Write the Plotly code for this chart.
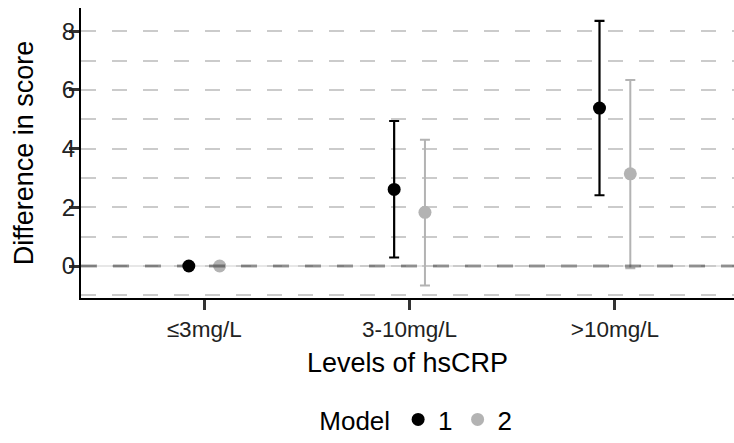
import plotly.graph_objects as go

categories = ["≤3mg/L", "3-10mg/L", ">10mg/L"]
models = ["1", "2"]
m1_est = [0.0, 2.61, 5.38]
m1_lo = [0.0, 0.29, 2.41]
m1_hi = [0.0, 4.94, 8.35]
m2_est = [0.0, 1.83, 3.14]
m2_lo = [0.0, -0.66, -0.08]
m2_hi = [0.0, 4.30, 6.34]
y_ticks = [0, 2, 4, 6, 8]

dodge = 0.075
colors = ["#000000", "#b3b3b3"]

fig = go.Figure()
for i, (name, est, lo, hi) in enumerate([("1", m1_est, m1_lo, m1_hi), ("2", m2_est, m2_lo, m2_hi)]):
    off = -dodge if i == 0 else dodge
    xs = [k + off for k in range(len(categories))]
    fig.add_trace(go.Scatter(
        x=xs, y=est, mode="markers", name=name,
        marker=dict(color=colors[i], size=13, line=dict(width=0)),
        error_y=dict(type="data", symmetric=False,
                     array=[h - e for h, e in zip(hi, est)],
                     arrayminus=[e - l for e, l in zip(est, lo)],
                     color=colors[i], thickness=2.2 if i == 0 else 2, width=5),
    ))

fig.add_shape(type="line", xref="paper", x0=0, x1=1, yref="y", y0=0, y1=0,
              line=dict(color="#cfcfcf", width=1), layer="below")
fig.add_shape(type="line", xref="paper", x0=0, x1=1, yref="y", y0=0, y1=0,
              line=dict(color="rgba(0,0,0,0.38)", width=3, dash="16px,16px"), layer="above")

font = "Liberation Sans, Arial, sans-serif"
fig.update_layout(
    width=734, height=443,
    margin=dict(l=81, r=0, t=8, b=141),
    plot_bgcolor="white", paper_bgcolor="white",
    font=dict(family=font, color="#000000"),
    showlegend=True,
    legend=dict(orientation="h", x=0.515, xanchor="center", xref="paper",
                y=-0.42, yanchor="middle",
                title=dict(text="Model", font=dict(size=26, family=font), side="left"),
                font=dict(size=26, family=font), itemwidth=30,
                bgcolor="rgba(0,0,0,0)"),
    xaxis=dict(
        range=[-0.6, 2.58], tickmode="array", tickvals=list(range(len(categories))),
        ticktext=categories, showgrid=False, zeroline=False,
        showline=True, linecolor="#000000", linewidth=2,
        ticks="outside", ticklen=10, tickwidth=2.5, tickcolor="#333333",
        tickfont=dict(size=22.5, family=font, color="#222222"),
        title=dict(text="Levels of hsCRP", font=dict(size=27, family=font), standoff=12),
    ),
    yaxis=dict(
        range=[-1.09, 8.79], tickmode="array", tickvals=y_ticks,
        ticktext=[str(v) for v in y_ticks],
        showgrid=True, gridcolor="#cbcbcb", gridwidth=1.5, griddash="15px,16px",
        minor=dict(dtick=1, tick0=-1, showgrid=True, gridcolor="#cbcbcb", gridwidth=1.5,
                   griddash="15px,16px"),
        zeroline=False,
        showline=True, linecolor="#000000", linewidth=2,
        ticks="outside", ticklen=10, tickwidth=2.5, tickcolor="#333333",
        tickfont=dict(size=24, family=font, color="#222222"),
        ticklabelstandoff=-11,
        title=dict(text="Difference in score", font=dict(size=27, family=font), standoff=20),
    ),
)

fig.write_html("out.html")
